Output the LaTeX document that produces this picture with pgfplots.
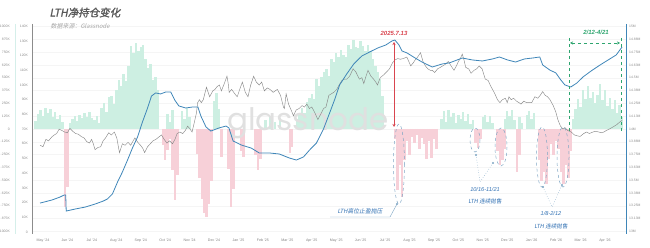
\documentclass[border=0pt]{standalone}
\usepackage{fontspec}
\setmainfont{Liberation Sans}
\newfontfamily\cjk{Noto Sans CJK SC}
\newfontfamily\cjkit{Noto Sans CJK SC}[FakeSlant=0.2]
\newfontfamily\cjkbi{Noto Sans CJK SC}[FakeSlant=0.2,FakeBold=1.5]
\newfontfamily\wm{Poppins}
\usepackage{pgfplots}
\pgfplotsset{compat=1.18}
\usetikzlibrary{arrows.meta}

\definecolor{barg}{HTML}{CDEFE2}
\definecolor{barp}{HTML}{F7D0D8}
\definecolor{lthblue}{HTML}{3F86B8}
\definecolor{pricegray}{HTML}{8A8A8A}
\definecolor{annblue}{HTML}{2F6FB2}
\definecolor{ellc}{HTML}{7FA6C4}
\definecolor{redann}{HTML}{D9454F}
\definecolor{greenann}{HTML}{2EA56F}
\definecolor{faintcyan}{HTML}{D5EFEA}

\pgfplotsset{base/.style={at={(O)}, anchor=south west, width=594pt, height=210pt,
  scale only axis, xmin=-0.45, xmax=23.86, axis line style={draw=none},
  major tick length=0pt, tick style={draw=none}}}
\newcommand\tickfont{\fontsize{3.4}{4}\selectfont}

\begin{document}
\begin{tikzpicture}
\path[use as bounding box] (0pt,0pt) rectangle (650pt,248pt);
\coordinate (O) at (32pt,14pt);

% ---------- bars (LTH net position change, K BTC) ----------
\begin{axis}[base, ymin=-1025.4, ymax=1025.4,
  ytick={-1000,-875,-750,-625,-500,-375,-250,-125,0,125,250,375,500,625,750,875,1000},
  yticklabels={-1000K,-875K,-750K,-625K,-500K,-375K,-250K,-125K,0,125K,250K,375K,500K,625K,750K,875K,1000K},
  yticklabel style={font=\tickfont, text=black!45, anchor=east, inner sep=0pt, xshift=-22pt},
  xtick={0,...,23},
  xticklabels={May '24,Jun '24,Jul '24,Aug '24,Sep '24,Oct '24,Nov '24,Dec '24,Jan '25,Feb '25,Mar '25,Apr '25,May '25,Jun '25,Jul '25,Aug '25,Sep '25,Oct '25,Nov '25,Dec '25,Jan '26,Feb '26,Mar '26,Apr '26},
  xticklabel style={font=\fontsize{3.6}{4}\selectfont, text=black!50, anchor=north, inner sep=0pt, yshift=-4.5pt},
  ymajorgrids, grid style={black!4, line width=0.3pt}]
\addplot[ycomb, draw=barg, line width=2.45pt] coordinates {
(-0.3,78) (-0.2,147) (-0.1,186) (0.0,127) (0.1,205) (0.2,156) (0.3,195) (0.4,117) (0.5,166) (0.6,98) (0.7,137) (0.8,68)
(1.1,59) (1.2,98) (1.3,127) (1.4,78) (1.5,137) (1.6,107) (1.7,156) (1.8,117) (1.9,166) (2.0,107) (2.1,88) (2.2,127) (2.3,59)
(2.4,205) (2.5,254) (2.6,166) (2.7,313) (2.8,322) (2.9,244) (3.0,381) (3.1,479) (3.2,420) (3.3,537) (3.4,469) (3.5,615) (3.6,811) (3.7,742) (3.8,840) (3.9,762) (4.0,801) (4.1,820) (4.2,684) (4.3,596) (4.4,635) (4.5,479) (4.6,508) (4.7,381)
(5.1,146) (5.2,68) (5.3,186) (5.7,176) (5.8,98) (5.9,205) (6.0,117)
(7.0,273) (7.1,352) (7.2,195)
(9.1,88) (9.3,127) (9.5,68) (9.7,107)
(10.4,100) (10.5,137) (10.6,205) (10.7,156) (10.8,264) (10.9,300) (11.0,342) (11.1,293) (11.2,488) (11.3,420) (11.4,508) (11.5,560) (11.6,586) (11.7,518) (11.8,684) (11.9,650) (12.0,742) (12.1,703) (12.2,771) (12.3,720) (12.4,703) (12.5,820) (12.6,780) (12.7,869) (12.8,800) (12.9,791) (13.0,859) (13.1,810) (13.2,762) (13.3,820) (13.4,760) (13.5,684) (13.6,615) (13.7,560) (13.8,488) (13.9,322)
(16.3,98) (16.4,176) (16.5,68) (16.6,186) (16.7,117) (16.8,156) (16.9,59) (17.0,137) (17.1,98) (17.2,166) (17.3,78) (17.4,146) (17.5,49) (17.6,88)
(18.0,117) (18.1,137) (18.2,68) (18.3,127) (18.4,59)
(18.9,98) (19.0,176) (19.1,127) (19.2,186) (19.3,88) (19.5,117) (19.6,59) (19.8,137) (19.9,176) (20.0,98) (20.1,156)
(21.7,98) (21.8,195) (21.9,293) (22.0,215) (22.1,381) (22.2,290) (22.3,420) (22.4,300) (22.5,360) (22.6,250) (22.7,330) (22.8,440) (22.9,280) (23.0,380) (23.1,220) (23.2,300) (23.3,200) (23.4,280) (23.5,160) (23.6,230) (23.7,120)
};
\addplot[ycomb, draw=barp, line width=2.45pt] coordinates {
(0.9,-762) (1.0,-566)
(4.9,-156) (5.0,-303) (5.1,-205) (5.2,-100) (5.3,-400) (5.4,-693) (5.5,-449)
(6.3,-244) (6.4,-479) (6.5,-684) (6.6,-820) (6.7,-859) (6.8,-732) (6.9,-508)
(7.3,-273)
(7.6,-391) (7.7,-762) (7.8,-586)
(8.1,-215) (8.2,-273)
(8.7,-254) (8.8,-400) (8.9,-293)
(10.1,-234) (10.2,-176)
(14.4,-100) (14.5,-600) (14.6,-350) (14.7,-660) (14.8,-300) (14.9,-120)
(15.0,-250) (15.1,-80) (15.2,-140) (15.3,-60) (15.4,-200) (15.5,-90) (15.6,-150) (15.7,-290) (15.8,-120) (15.9,-280) (16.0,-100) (16.1,-200)
(17.7,-137) (17.8,-186) (17.9,-98)
(18.6,-215) (18.7,-352) (18.8,-303) (18.9,-195)
(19.4,-420) (19.5,-250)
(20.3,-300) (20.4,-508) (20.5,-420) (20.6,-540) (20.7,-293)
(20.8,-150) (20.9,-250) (21.0,-120) (21.1,-200)
(21.2,-420) (21.3,-540) (21.4,-352) (21.5,-480) (21.6,-215)
};
\end{axis}

% watermark
\node[font=\wm\fontsize{31}{31}\selectfont, text=black!12, anchor=base] at (308pt,117pt) {glassnode};

% ---------- BTC price ----------
\begin{axis}[base, ymin=-1.36, ymax=141.5, xtick=\empty,
  ytick={0,10,...,140},
  yticklabels={0,10K,20K,30K,40K,50K,60K,70K,80K,90K,100K,110K,120K,130K,140K},
  yticklabel style={font=\tickfont, text=black!45, anchor=east, inner sep=0pt, xshift=-4pt}]
\addplot[pricegray, line width=0.45pt] coordinates {
(-0.12,59) (0.00,58) (0.12,63) (0.23,62) (0.35,64.5) (0.46,66) (0.56,67) (0.66,70) (0.78,69) (0.89,68) (1.00,67.5) (1.10,70.5) (1.22,68.5) (1.33,67) (1.45,66.5) (1.56,65) (1.68,64) (1.79,61.5) (1.90,60.5) (1.99,63) (2.06,60) (2.13,56) (2.25,57.5) (2.36,58) (2.46,62) (2.56,64) (2.69,67.5) (2.80,66) (2.92,68) (3.02,64) (3.13,54) (3.25,60) (3.36,59) (3.48,61) (3.59,59) (3.69,62) (3.76,64) (3.88,61) (3.99,59) (4.08,57) (4.16,54) (4.28,58) (4.39,60) (4.50,62) (4.62,63) (4.73,64.5) (4.85,66) (4.96,63) (5.07,60.5) (5.18,62) (5.30,60) (5.40,63) (5.49,67) (5.60,68) (5.72,67) (5.82,69) (5.92,72) (6.02,70) (6.10,68) (6.20,75) (6.28,81) (6.33,88) (6.40,90) (6.48,88) (6.56,90) (6.62,94) (6.69,98.5) (6.76,95) (6.82,92) (6.95,96) (7.04,97) (7.13,99) (7.22,100) (7.30,96) (7.42,101) (7.53,106) (7.58,101) (7.62,95) (7.72,97) (7.85,94) (7.95,92) (8.05,97) (8.16,102) (8.28,95) (8.39,92) (8.50,100) (8.62,106) (8.73,102) (8.85,100) (8.95,102) (9.06,96) (9.18,98) (9.29,97) (9.42,95) (9.59,97) (9.72,93) (9.84,85) (9.88,84) (9.95,94) (10.05,87) (10.18,82) (10.25,79) (10.36,83) (10.48,84) (10.60,86) (10.70,85) (10.80,87) (10.90,84) (11.00,85) (11.10,82) (11.25,76.5) (11.36,80) (11.48,84) (11.58,85) (11.70,93) (11.80,94) (11.90,95) (12.02,97) (12.12,100) (12.23,103) (12.33,104) (12.43,104) (12.55,106) (12.69,111) (12.80,109) (12.95,104) (13.05,105) (13.13,101) (13.22,106) (13.30,110) (13.42,106) (13.53,104) (13.62,102) (13.69,100) (13.80,105) (13.95,107) (14.07,109) (14.18,111) (14.30,115) (14.40,117) (14.52,118) (14.62,117.5) (14.75,118) (14.89,119) (14.97,116) (15.05,113) (15.15,115) (15.23,117) (15.33,119) (15.45,122) (15.55,116) (15.65,113) (15.75,111) (15.85,110) (15.93,110) (16.03,108.5) (16.15,111) (16.26,112) (16.36,113) (16.46,114) (16.59,116) (16.70,113) (16.82,110) (16.92,113) (17.00,116) (17.08,118) (17.16,121) (17.23,117) (17.30,112) (17.42,111) (17.52,108) (17.64,110) (17.75,111) (17.85,113) (17.97,111) (18.10,104) (18.22,103) (18.33,99) (18.43,96) (18.52,93) (18.60,90) (18.70,88) (18.80,90) (18.92,91) (19.00,88) (19.07,92) (19.16,90) (19.26,91) (19.38,89) (19.48,88) (19.56,87) (19.68,89) (19.79,88) (19.90,88) (20.00,88) (20.13,92) (20.25,91) (20.35,93) (20.45,95.5) (20.55,93) (20.65,92) (20.75,90) (20.88,86) (20.98,82) (21.08,76) (21.18,72) (21.28,70) (21.36,71) (21.48,69) (21.62,68) (21.75,66) (21.85,65.5) (21.98,65) (22.13,67) (22.25,68) (22.36,67) (22.50,68) (22.62,68.5) (22.75,68) (22.85,67.5) (22.95,68) (23.05,69) (23.17,70) (23.28,71) (23.38,72) (23.48,73) (23.58,74.5) (23.70,76)
};
\end{axis}

% ---------- LTH supply ----------
\begin{axis}[base, ymin=12.975, ymax=15.025, xtick=\empty,
  ytick={13,13.125,13.25,13.375,13.5,13.625,13.75,13.875,14,14.125,14.25,14.375,14.5,14.625,14.75,14.875,15},
  yticklabels={13M,13.13M,13.25M,13.38M,13.5M,13.63M,13.75M,13.88M,14M,14.13M,14.25M,14.38M,14.5M,14.63M,14.75M,14.88M,15M},
  yticklabel pos=right,
  yticklabel style={font=\tickfont, text=black!45, anchor=west, inner sep=0pt, xshift=3pt}]
\addplot[lthblue, line width=0.8pt] coordinates {
(-0.12,13.277) (0.37,13.307) (0.70,13.336) (0.86,13.355) (0.93,13.355) (0.95,13.199) (1.32,13.219) (1.73,13.238) (2.14,13.268) (2.47,13.297) (2.63,13.316) (2.84,13.365) (3.05,13.482) (3.25,13.580) (3.46,13.697) (3.66,13.814) (3.87,13.922) (4.07,14.068) (4.28,14.205) (4.44,14.322) (4.61,14.352) (4.81,14.342) (5.02,14.361) (5.23,14.361) (5.39,14.283) (5.56,14.225) (5.84,14.205) (6.13,14.215) (6.34,14.215) (6.46,14.127) (6.67,14.020) (6.87,13.980) (7.20,14.010) (7.49,14.029) (7.61,14.010) (7.78,13.883) (8.11,13.844) (8.52,13.814) (8.85,13.766) (9.26,13.766) (9.67,13.756) (10.08,13.717) (10.37,13.697) (10.66,13.727) (10.91,13.795) (11.19,13.863) (11.48,14.000) (11.73,14.156) (11.93,14.283) (12.14,14.430) (12.43,14.537) (12.72,14.635) (13.05,14.713) (13.37,14.752) (13.70,14.791) (14.03,14.820) (14.28,14.859) (14.40,14.869) (14.57,14.820) (14.69,14.762) (14.90,14.742) (15.23,14.693) (15.51,14.654) (15.93,14.605) (16.34,14.635) (16.63,14.645) (17.16,14.693) (17.57,14.674) (17.98,14.664) (18.40,14.684) (18.68,14.703) (19.01,14.674) (19.34,14.654) (19.71,14.684) (20.04,14.693) (20.33,14.703) (20.45,14.625) (20.74,14.576) (20.99,14.547) (21.19,14.479) (21.36,14.430) (21.60,14.410) (21.85,14.449) (22.10,14.508) (22.43,14.566) (22.80,14.625) (23.13,14.674) (23.46,14.723) (23.70,14.801)
};
\end{axis}

% ---------- annotations (pixel coordinates, y downward) ----------
\begin{scope}[x=1pt, y=-1pt, shift={(0pt,248pt)}]
\draw[black!45, line width=0.5pt] (32,24) -- (32,234);
\draw[faintcyan, line width=0.5pt] (15,24) -- (15,234);
\draw[lthblue, line width=0.9pt] (626,24) -- (626,234);

\node[anchor=west, font=\cjkbi\fontsize{10.5}{11}\selectfont, text=black!65] at (46,12.5) {LTH净持仓变化};
\node[anchor=west, font=\cjkit\fontsize{6}{6}\selectfont, text=black!35] at (47,26) {数据来源：Glassnode};

% red
\draw[redann, line width=0.6pt, {Stealth[length=3pt,width=3pt]}-{Stealth[length=3pt,width=3pt]}] (394,42) -- (394,127);
\node[redann, font=\bfseries\itshape\fontsize{6}{6}\selectfont] at (394,33) {2025.7.13};

% green
\draw[greenann, dashed, line width=0.5pt] (569,38) -- (569,132);
\draw[greenann, dashed, line width=0.5pt] (621,38) -- (621,132);
\draw[greenann, dashed, line width=0.5pt, {Stealth[length=3pt,width=3pt]}-{Stealth[length=3pt,width=3pt]}] (570,43) -- (620,43);
\node[greenann, font=\bfseries\itshape\fontsize{6}{6}\selectfont] at (596,32) {2/12-4/21};

% ellipses
\draw[ellc, dashed, line width=0.5pt] (399,164) ellipse [x radius=5.5, y radius=40];
\fill[ellc] (397,204) circle [radius=1.1];
\draw[ellc, line width=0.4pt] (397,204) -- (390,217) -- (330,217);
\node[annblue, font=\cjkit\fontsize{5.8}{6}\selectfont] at (360,211.5) {LTH高位止盈抛压};

\draw[ellc, dashed, line width=0.5pt] (475,140) ellipse [x radius=5, y radius=12];
\draw[ellc, dashed, line width=0.5pt] (501,147) ellipse [x radius=6, y radius=19];
\fill[ellc] (476,155) circle [radius=1.1];
\fill[ellc] (493,163) circle [radius=1.1];
\draw[ellc, dotted, line width=0.5pt] (476,155) -- (480,182) -- (493,163);
\node[annblue, font=\itshape\fontsize{5.6}{6}\selectfont] at (485,190) {10/16-11/21};
\node[annblue, font=\cjkit\fontsize{5.6}{6}\selectfont] at (485,201) {LTH 连续抛售};

\draw[ellc, dashed, line width=0.5pt] (542,157) ellipse [x radius=5.5, y radius=30];
\draw[ellc, dashed, line width=0.5pt] (563,157) ellipse [x radius=6, y radius=30];
\fill[ellc] (543,187) circle [radius=1.1];
\fill[ellc] (562,185) circle [radius=1.1];
\draw[ellc, dotted, line width=0.5pt] (543,187) -- (552,207) -- (562,185);
\node[annblue, font=\itshape\fontsize{5.6}{6}\selectfont] at (551,214) {1/8-2/12};
\node[annblue, font=\cjkit\fontsize{5.6}{6}\selectfont] at (551,226) {LTH 连续抛售};
\end{scope}
\end{tikzpicture}
\end{document}
